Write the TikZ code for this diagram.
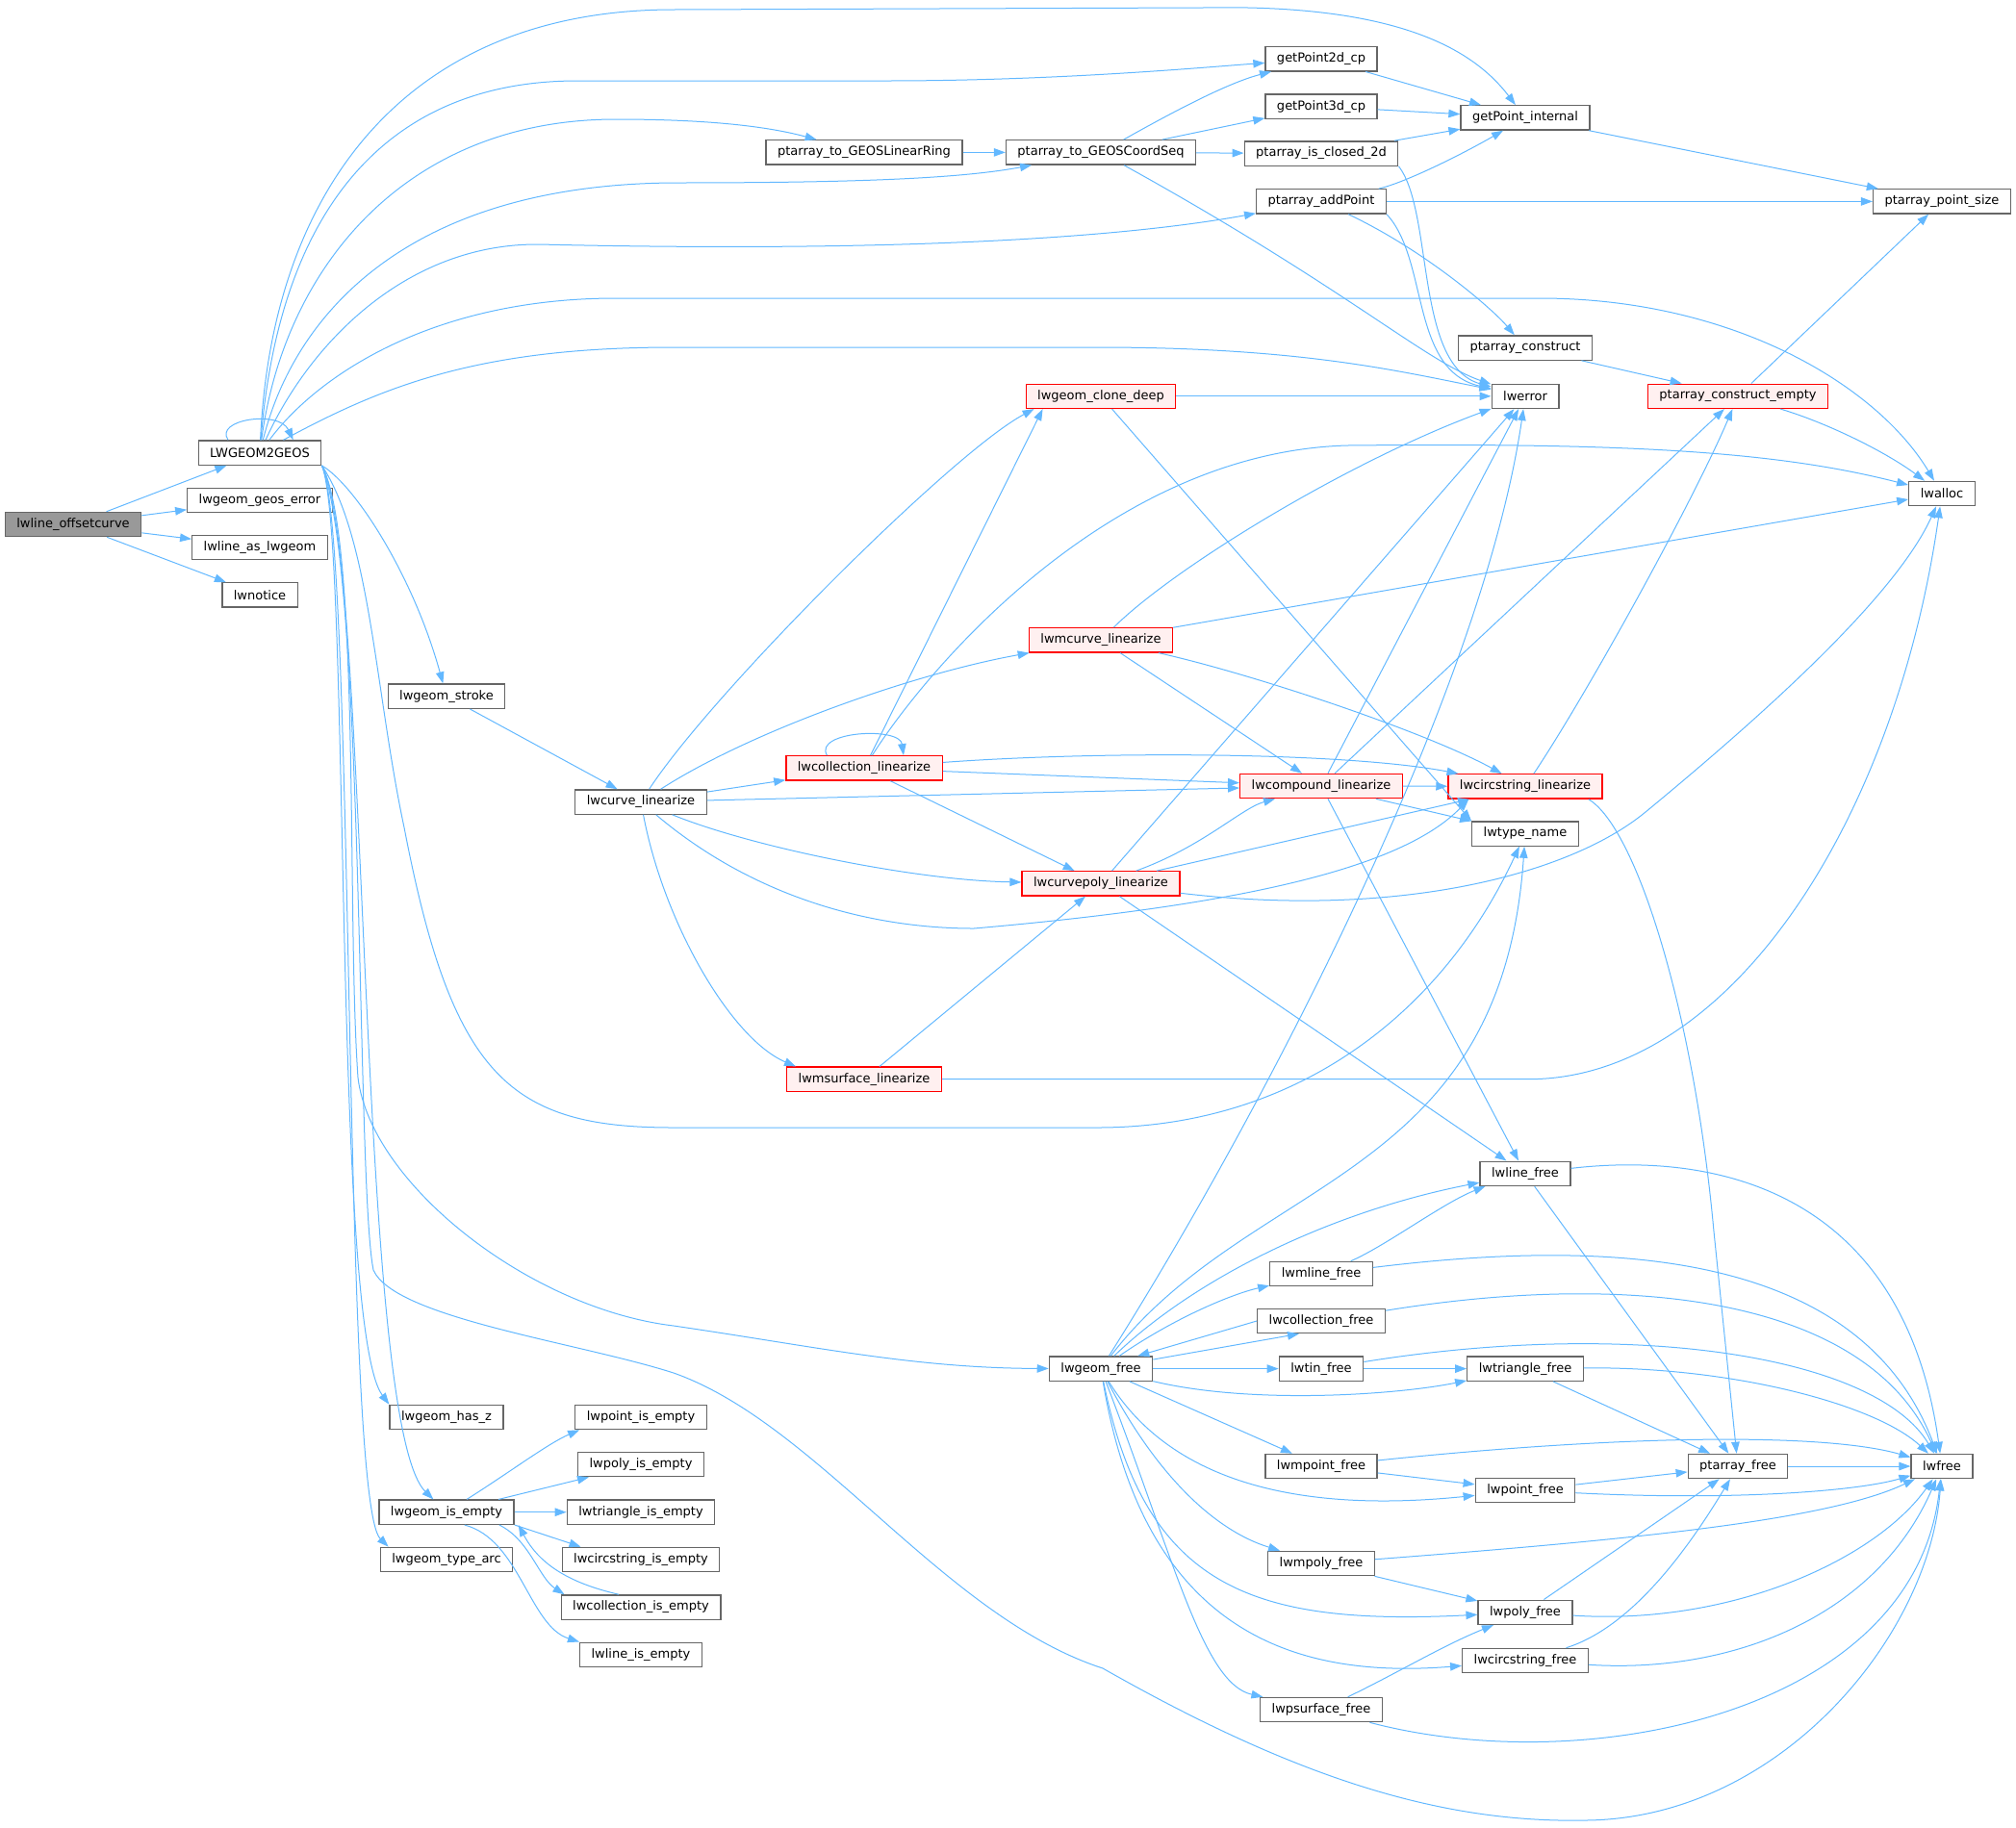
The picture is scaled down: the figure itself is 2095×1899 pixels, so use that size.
\documentclass[tikz,border=0pt]{standalone}
\usepackage{fontspec}
\setmainfont{DejaVu Sans}
\usetikzlibrary{arrows.meta}
\definecolor{edgeblue}{HTML}{63B8FF}
\definecolor{boxgray}{HTML}{666666}
\definecolor{rootgray}{HTML}{999999}
\definecolor{redfill}{HTML}{FFF0F0}
\begin{document}
\begin{tikzpicture}[
    x=1pt, y=-1pt,
    fn/.style={draw=boxgray, fill=white, line width=1.3pt, inner xsep=12pt,
      inner ysep=0pt, minimum height=25.3pt, font=\fontsize{13}{15}\selectfont},
    fnred/.style={fn, draw=red, fill=redfill},
    fnroot/.style={fn, fill=rootgray},
    call/.style={draw=edgeblue, line width=1pt, ->},
    >={Triangle[length=12pt,width=8.5pt]}
  ]
  \useasboundingbox (0,0) rectangle (2095,1899);

  \node[fnroot] (root) at (76,545) {lwline\_offsetcurve};
  \node[fn] (l2g) at (270,470.6) {LWGEOM2GEOS};
  \node[fn] (geoserr) at (270,520) {lwgeom\_geos\_error};
  \node[fn] (asgeom) at (270,569) {lwline\_as\_lwgeom};
  \node[fn] (notice) at (270,618.4) {lwnotice};
  \node[fn] (stroke) at (464,723.7) {lwgeom\_stroke};
  \node[fn] (hasz) at (464,1473) {lwgeom\_has\_z};
  \node[fn] (isempty) at (464,1571.7) {lwgeom\_is\_empty};
  \node[fn] (typearc) at (464,1621) {lwgeom\_type\_arc};
  \node[fn] (curvelin) at (666,833.5) {lwcurve\_linearize};
  \node[fn] (ptisempty) at (666,1473) {lwpoint\_is\_empty};
  \node[fn] (polyisempty) at (666,1522) {lwpoly\_is\_empty};
  \node[fn] (triisempty) at (666,1571.7) {lwtriangle\_is\_empty};
  \node[fn] (circisempty) at (666,1621) {lwcircstring\_is\_empty};
  \node[fn] (collisempty) at (666,1670.5) {lwcollection\_is\_empty};
  \node[fn] (lineisempty) at (666,1719.8) {lwline\_is\_empty};
  \node[fn] (ring) at (898,158.4) {ptarray\_to\_GEOSLinearRing};
  \node[fnred] (colllin) at (898,798.4) {lwcollection\_linearize};
  \node[fnred] (msurflin) at (898,1121.7) {lwmsurface\_linearize};
  \node[fn] (coordseq) at (1144,158.4) {ptarray\_to\_GEOSCoordSeq};
  \node[fnred] (clonedeep) at (1144,411.8) {lwgeom\_clone\_deep};
  \node[fnred] (mcurvelin) at (1144,665.3) {lwmcurve\_linearize};
  \node[fnred] (cpolylin) at (1144,918.4) {lwcurvepoly\_linearize};
  \node[fn] (gfree) at (1144,1422.6) {lwgeom\_free};
  \node[fn] (gp2d) at (1373,61.2) {getPoint2d\_cp};
  \node[fn] (gp3d) at (1373,110.6) {getPoint3d\_cp};
  \node[fn] (isclosed) at (1373,159.5) {ptarray\_is\_closed\_2d};
  \node[fn] (addpt) at (1373,209.4) {ptarray\_addPoint};
  \node[fnred] (complin) at (1373,817) {lwcompound\_linearize};
  \node[fn] (mlinefree) at (1373,1324) {lwmline\_free};
  \node[fn] (collfree) at (1373,1373) {lwcollection\_free};
  \node[fn] (tinfree) at (1373,1422.6) {lwtin\_free};
  \node[fn] (mptfree) at (1373,1524) {lwmpoint\_free};
  \node[fn] (mpolyfree) at (1373,1625) {lwmpoly\_free};
  \node[fn] (psurffree) at (1373,1777) {lwpsurface\_free};
  \node[fn] (gpint) at (1585,122.4) {getPoint\_internal};
  \node[fn] (construct) at (1585,361.5) {ptarray\_construct};
  \node[fn] (lwerr) at (1585,411.8) {lwerror};
  \node[fnred] (circlin) at (1585,817.4) {lwcircstring\_linearize};
  \node[fn] (typename) at (1585,866.5) {lwtype\_name};
  \node[fn] (linefree) at (1585,1219.8) {lwline\_free};
  \node[fn] (trifree) at (1585,1422.6) {lwtriangle\_free};
  \node[fn] (ptfree) at (1585,1549) {lwpoint\_free};
  \node[fn] (polyfree) at (1585,1675.8) {lwpoly\_free};
  \node[fn] (circfree) at (1585,1726) {lwcircstring\_free};
  \node[fnred] (cempty) at (1806,411.8) {ptarray\_construct\_empty};
  \node[fn] (pafree) at (1806,1524) {ptarray\_free};
  \node[fn] (ptsize) at (2018,209.4) {ptarray\_point\_size};
  \node[fn] (alloc) at (2018,513) {lwalloc};
  \node[fn] (lwfree) at (2018,1524) {lwfree};

  % lwline_offsetcurve
  \draw[call] (root) -- (l2g);
  \draw[call] (root) -- (geoserr);
  \draw[call] (root) -- (asgeom);
  \draw[call] (root) -- (notice);

  % LWGEOM2GEOS, upwards
  \draw[call] (l2g.158) .. controls (222,436) and (290,426) .. (l2g.21);
  \draw[call] (l2g) .. controls (282,200) and (420,10) .. (700,10) -- (1250,8) .. controls (1450,4) and (1530,50) .. (gpint);
  \draw[call] (l2g) .. controls (290,220) and (400,84) .. (600,84) -- (920,84) .. controls (1100,84) and (1250,70) .. (gp2d);
  \draw[call] (l2g) .. controls (295,280) and (420,124) .. (640,124) .. controls (740,124) and (800,132) .. (ring);
  \draw[call] (l2g) .. controls (305,330) and (420,192) .. (700,190) .. controls (900,190) and (1000,185) .. (coordseq);
  \draw[call] (l2g) .. controls (320,360) and (420,253) .. (560,254) .. controls (900,262) and (1150,250) .. (addpt);
  \draw[call] (l2g) .. controls (330,390) and (450,310) .. (640,310) -- (1600,310) .. controls (1800,310) and (1950,400) .. (alloc);
  \draw[call] (l2g) .. controls (400,400) and (500,361) .. (700,361) -- (1140,361) .. controls (1350,361) and (1450,385) .. (lwerr);

  % LWGEOM2GEOS, downwards
  \draw[call] (l2g.south east) .. controls (370,505) and (430,600) .. (stroke);
  \draw[call] (l2g.south east) .. controls (385,560) and (390,720) .. (420,860) .. controls (470,1120) and (530,1172) .. (700,1172) -- (1140,1172) .. controls (1350,1172) and (1500,1050) .. (typename);
  \draw[call] (l2g.south east) .. controls (375,560) and (360,950) .. (372,1120) .. controls (385,1230) and (550,1360) .. (700,1378) .. controls (850,1400) and (950,1422) .. (gfree);
  \draw[call] (l2g.south east) .. controls (380,600) and (370,1230) .. (388,1320) .. controls (410,1370) and (600,1395) .. (700,1427) .. controls (850,1480) and (980,1680) .. (1146,1734) .. controls (1350,1850) and (1500,1895) .. (1648,1892) .. controls (1850,1890) and (2005,1700) .. (lwfree);
  \draw[call] (l2g.south east) .. controls (365,560) and (345,1380) .. (hasz.north west);
  \draw[call] (l2g.south east) .. controls (385,580) and (370,1480) .. (isempty);
  \draw[call] (l2g.south east) .. controls (370,560) and (355,1560) .. ([xshift=9pt]typearc.north west);
  \draw[call] (stroke) -- (curvelin);

  % point arrays
  \draw[call] (ring) -- (coordseq);
  \draw[call] (coordseq) .. controls (1230,110) and (1280,85) .. (gp2d);
  \draw[call] (coordseq) -- (gp3d);
  \draw[call] (coordseq) -- (isclosed);
  \draw[call] (coordseq) .. controls (1400,300) and (1480,375) .. (lwerr);
  \draw[call] (gp2d) -- (gpint);
  \draw[call] (gp3d) -- (gpint);
  \draw[call] (isclosed) -- (gpint);
  \draw[call] (isclosed.south east) .. controls (1490,220) and (1470,380) .. (lwerr);
  \draw[call] (addpt) .. controls (1460,190) and (1520,160) .. (gpint);
  \draw[call] (addpt) -- (ptsize);
  \draw[call] (addpt.south east) .. controls (1485,270) and (1465,385) .. (lwerr);
  \draw[call] (addpt) .. controls (1480,260) and (1550,320) .. (construct);
  \draw[call] (gpint) -- (ptsize);
  \draw[call] (construct) -- (cempty);
  \draw[call] (cempty) -- (ptsize);
  \draw[call] (cempty) .. controls (1900,440) and (1960,470) .. (alloc);
  \draw[call] (clonedeep) -- (lwerr);
  \draw[call] (clonedeep) -- (typename.north west);

  % linearize
  \draw[call] (curvelin) .. controls (740,720) and (990,470) .. ([xshift=9pt]clonedeep.south west);
  \draw[call] (curvelin) .. controls (780,760) and (950,700) .. (mcurvelin);
  \draw[call] (curvelin) -- (colllin);
  \draw[call] (curvelin) -- (complin);
  \draw[call] (curvelin) .. controls (780,880) and (950,915) .. (cpolylin);
  \draw[call] (curvelin) .. controls (780,930) and (900,965) .. (1012,965) .. controls (1300,940) and (1460,900) .. ([xshift=22pt]circlin.south west);
  \draw[call] (curvelin) .. controls (690,960) and (760,1080) .. ([xshift=10pt]msurflin.north west);
  \draw[call] (colllin.161) .. controls (845,760) and (935,755) .. (colllin.18);
  \draw[call] (colllin) -- ([xshift=18pt]clonedeep.south west);
  \draw[call] (colllin) .. controls (960,700) and (1150,470) .. (1400,463) .. controls (1700,460) and (1850,470) .. (alloc);
  \draw[call] (colllin) .. controls (1150,780) and (1400,782) .. (circlin);
  \draw[call] (colllin) -- (complin);
  \draw[call] (colllin) -- (cpolylin);
  \draw[call] (mcurvelin) .. controls (1220,590) and (1400,480) .. (lwerr);
  \draw[call] (mcurvelin) -- (alloc);
  \draw[call] (mcurvelin) -- (complin);
  \draw[call] (mcurvelin) .. controls (1300,700) and (1480,760) .. (circlin);
  \draw[call] (cpolylin) -- (lwerr);
  \draw[call] (cpolylin) .. controls (1250,880) and (1290,840) .. (complin);
  \draw[call] (cpolylin) -- (circlin);
  \draw[call] (cpolylin) .. controls (1450,955) and (1630,910) .. (1710,844) .. controls (1830,745) and (1970,620) .. (alloc);
  \draw[call] (cpolylin) -- (linefree);
  \draw[call] (msurflin) -- (cpolylin);
  \draw[call] (msurflin) -- (1590,1121.7) .. controls (1800,1120) and (1970,850) .. (alloc);
  \draw[call] (complin) -- (lwerr);
  \draw[call] (complin) -- (cempty);
  \draw[call] (complin) -- (circlin);
  \draw[call] (complin) -- (typename);
  \draw[call] (complin) -- (linefree);
  \draw[call] (circlin) .. controls (1650,720) and (1760,520) .. (cempty);
  \draw[call] ([xshift=-15pt]circlin.south east) .. controls (1700,860) and (1760,1050) .. (1781,1280) -- (pafree);

  % free
  \draw[call] (linefree) .. controls (1800,1195) and (1980,1250) .. (lwfree);
  \draw[call] (linefree) -- (pafree);
  \draw[call] (gfree) .. controls (1310,1160) and (1540,720) .. (lwerr);
  \draw[call] (gfree) .. controls (1300,1220) and (1560,1230) .. (typename);
  \draw[call] (gfree) .. controls (1240,1330) and (1380,1260) .. (linefree);
  \draw[call] (gfree) .. controls (1220,1370) and (1280,1345) .. (mlinefree);
  \draw[call] (gfree) -- (collfree.210);
  \draw[call] (collfree.west) -- ([xshift=-16pt]gfree.north east);
  \draw[call] (gfree) -- (tinfree);
  \draw[call] (gfree) .. controls (1300,1460) and (1450,1450) .. (trifree);
  \draw[call] (gfree) -- (mptfree);
  \draw[call] (gfree) .. controls (1210,1530) and (1330,1575) .. (ptfree);
  \draw[call] (gfree) .. controls (1200,1530) and (1260,1590) .. (mpolyfree);
  \draw[call] (gfree) .. controls (1190,1650) and (1300,1690) .. (polyfree);
  \draw[call] (gfree) .. controls (1190,1700) and (1350,1745) .. (circfree);
  \draw[call] (gfree) .. controls (1220,1620) and (1250,1750) .. (psurffree);
  \draw[call] (mlinefree) .. controls (1440,1295) and (1500,1250) .. ([xshift=6pt]linefree.south west);
  \draw[call] (mlinefree) .. controls (1650,1290) and (1930,1290) .. (lwfree);
  \draw[call] (collfree) .. controls (1700,1320) and (1940,1350) .. (lwfree);
  \draw[call] (tinfree) -- (trifree);
  \draw[call] (tinfree) .. controls (1700,1370) and (1950,1410) .. (lwfree);
  \draw[call] (trifree) .. controls (1800,1420) and (1950,1460) .. (lwfree);
  \draw[call] (trifree) -- (pafree);
  \draw[call] (mptfree) .. controls (1700,1490) and (1900,1490) .. (lwfree);
  \draw[call] (mptfree) -- (ptfree);
  \draw[call] (ptfree) -- (pafree);
  \draw[call] (ptfree) .. controls (1800,1560) and (1930,1550) .. (lwfree);
  \draw[call] (pafree) -- (lwfree);
  \draw[call] (mpolyfree) .. controls (1700,1600) and (1900,1580) .. (lwfree);
  \draw[call] (mpolyfree) -- (polyfree);
  \draw[call] (polyfree) -- (pafree);
  \draw[call] (polyfree) .. controls (1800,1690) and (1950,1620) .. (lwfree);
  \draw[call] (circfree) .. controls (1700,1690) and (1760,1600) .. (pafree);
  \draw[call] (circfree) .. controls (1800,1740) and (1950,1680) .. (lwfree);
  \draw[call] (psurffree) .. controls (1450,1740) and (1500,1710) .. (polyfree);
  \draw[call] (psurffree) .. controls (1650,1850) and (1990,1780) .. (lwfree);

  % is_empty
  \draw[call] (isempty) .. controls (530,1530) and (570,1500) .. ([xshift=5pt]ptisempty.south west);
  \draw[call] (isempty) -- (polyisempty);
  \draw[call] (isempty) -- (triisempty);
  \draw[call] (isempty.south east) -- ([xshift=20pt]circisempty.north west);
  \draw[call] ([xshift=-16pt]isempty.south east) .. controls (550,1600) and (560,1640) .. ([xshift=4pt]collisempty.north west);
  \draw[call] ([xshift=-23pt]collisempty.north) .. controls (590,1645) and (560,1625) .. ([xshift=4pt]isempty.south east);
  \draw[call] ([xshift=-52pt]isempty.south east) .. controls (540,1600) and (550,1690) .. (lineisempty.north west);
\end{tikzpicture}
\end{document}
